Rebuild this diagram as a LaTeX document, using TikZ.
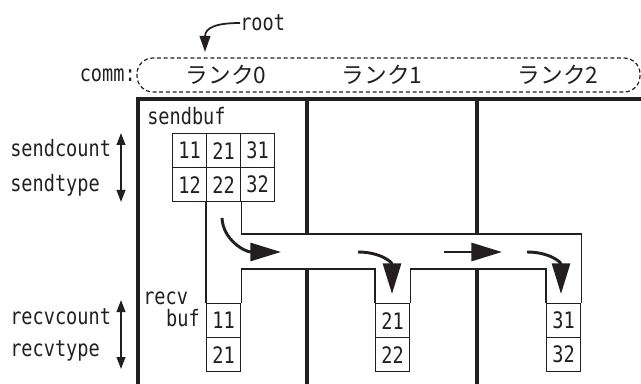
\documentclass[tikz,border=0pt]{standalone}
\usepackage{fontspec}
\setmonofont{DejaVu Sans Mono}[FakeStretch=0.82]
\newfontfamily\jpfont{Noto Sans CJK JP}
\usetikzlibrary{arrows.meta}

\definecolor{ink}{RGB}{35,31,32}

\begin{document}
\begin{tikzpicture}[x=0.75pt,y=-0.75pt,
  every node/.style={font=\fontsize{17}{19}\selectfont\ttfamily, text=ink, inner sep=0pt},
  rankline/.style={draw=ink, line width=2.4pt},
  wire/.style={draw=ink, line width=1pt},
  cell/.style={wire, minimum width=25.5pt, minimum height=25.5pt, anchor=north west},
  flow/.style={draw=ink, line width=2.2pt, -{Triangle[length=23pt,width=13.5pt]}},
  dim/.style={draw=ink, line width=1.4pt, {Triangle[length=9pt,width=6.5pt]}-{Triangle[length=9pt,width=6.5pt]}},
  lbl/.style={anchor=west},
]
\useasboundingbox (0,0) rectangle (641,384);

% communicator with its three ranks
\draw[ink, line width=0.9pt, dash pattern=on 3pt off 2pt, rounded corners=12pt]
  (137,58) rectangle (640,92);
\node[anchor=east] (comm) at (136,75) {comm:};
\node (rank0) at (226,75) {\jpfont ランク0};
\node (rank1) at (382,75) {\jpfont ランク1};
\node (rank2) at (558,75) {\jpfont ランク2};

\node[lbl] (root) at (240,23) {root};
\coordinate (roottip) at (205,52);
\draw[draw=ink, line width=1.3pt, -{Triangle[length=12pt,width=8pt]}]
  (root.west) .. controls (218,23) and (205,27) .. (roottip);

% process columns
\coordinate (ctop) at (0,234);
\coordinate (cbot) at (0,269);
\draw[rankline] (138,384) -- (138,99) -- (641,99);
\draw[rankline] (307,99) -- (307,234);
\draw[rankline] (307,269) -- (307,384);
\draw[rankline] (477,99) -- (477,234);
\draw[rankline] (477,269) -- (477,384);

% send buffer on the root
\node[lbl] (sendbuf) at (147,116) {sendbuf};
\node[cell] (s11) at (172,133) {11};
\node[cell] (s21) at (206,133) {21};
\node[cell] (s31) at (240,133) {31};
\node[cell] (s12) at (172,167) {12};
\node[cell] (s22) at (206,167) {22};
\node[cell] (s32) at (240,167) {32};

% receive buffers
\node[anchor=west] (recv) at (143,298) {recv};
\node[anchor=east] (buf) at (200,318) {buf};
\node[cell] (r0a) at (206,303) {11};
\node[cell] (r0b) at (206,337) {21};
\node[cell] (r1a) at (375,303) {21};
\node[cell] (r1b) at (375,337) {22};
\node[cell] (r2a) at (546,303) {31};
\node[cell] (r2b) at (546,337) {32};

% distribution channel
\draw[wire] (s22.south west) -- (r0a.north west);
\draw[wire] (s22.south east) |- (r2a.north east |- ctop) -- (r2a.north east);
\draw[wire] (r0a.north east) |- (r1a.north west |- cbot) -- (r1a.north west);
\draw[wire] (r1a.north east) |- (r2a.north west |- cbot) -- (r2a.north west);

% flow arrows
\coordinate (f1a) at (222,218);
\coordinate (f1b) at (281,252);
\draw[flow] (f1a) .. controls (223,240) and (245,252) .. (f1b);
\coordinate (f2a) at (358,252);
\coordinate (f2b) at (392,294);
\draw[flow] (f2a) .. controls (380,252) and (392,262) .. (f2b);
\coordinate (f3a) at (444,252);
\coordinate (f3b) at (502,252);
\draw[flow] (f3a) -- (f3b);
\coordinate (f4a) at (527,252);
\coordinate (f4b) at (561,294);
\draw[flow] (f4a) .. controls (549,252) and (561,262) .. (f4b);

% argument labels
\node[lbl] (sendcount) at (10,148) {sendcount};
\node[lbl] (sendtype) at (10,185) {sendtype};
\node[lbl] (recvcount) at (10,317) {recvcount};
\node[lbl] (recvtype) at (10,351) {recvtype};
\coordinate (sd1) at (121,133);
\coordinate (sd2) at (121,202);
\coordinate (rd1) at (121,300);
\coordinate (rd2) at (121,369);
\draw[dim] (sd1) -- (sd2);
\draw[dim] (rd1) -- (rd2);
\end{tikzpicture}
\end{document}
